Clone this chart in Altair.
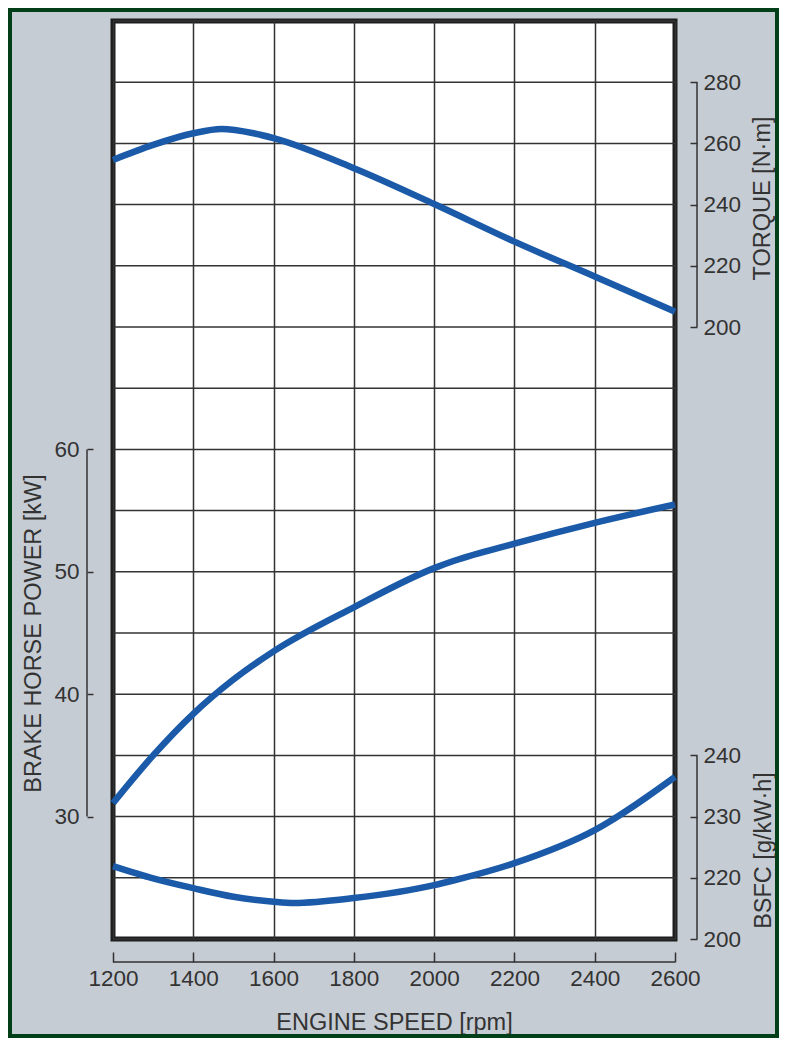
import altair as alt
import pandas as pd

# ---- data ----
rpm_ticks = [1200, 1400, 1600, 1800, 2000, 2200, 2400, 2600]

torque_rpm = [1200, 1300, 1400, 1470, 1550, 1600, 1800, 2000, 2200, 2400, 2600]
torque_nm = [254.6, 259.5, 263.3, 264.7, 263.3, 261.7, 251.9, 240.2, 227.9, 216.5, 205.0]

power_rpm = [1200, 1300, 1400, 1500, 1600, 1800, 2000, 2050, 2200, 2400, 2600]
power_kw = [31.1, 35.0, 38.4, 41.2, 43.5, 47.1, 50.3, 50.9, 52.3, 54.0, 55.5]

bsfc_rpm = [1200, 1300, 1400, 1500, 1600, 1650, 1800, 2000, 2050, 2200, 2400, 2600]
bsfc_g = [221.9, 219.9, 218.3, 216.9, 216.1, 215.9, 216.7, 218.8, 219.6, 222.4, 227.8, 236.5]

power_grid = [20, 25, 30, 35, 40, 45, 50, 55, 60, 65, 70, 75, 80, 85, 90, 95]
power_ticks = [30, 40, 50, 60]
torque_ticks = [200, 220, 240, 260, 280]
bsfc_ticks = [210, 220, 230, 240]

W, H = 562, 918
LINE = "#1a5aa8"
INK = "#333333"
FONT = "Liberation Sans"
BG = "#c6ccd3"

common_axis = dict(
    labelColor=INK, tickColor=INK, tickWidth=1.5, labelFont=FONT,
    titleFont=FONT, titleFontWeight="normal", titleColor=INK,
    labelFontSize=22.5, titleFontSize=23.5, domain=False,
    titleAlign="center", titleBaseline="middle", labelFlush=False,
)

X = alt.X(
    "rpm:Q",
    scale=alt.Scale(domain=[1200, 2600], nice=False, zero=False),
    axis=alt.Axis(
        values=rpm_ticks, grid=True, gridColor=INK, gridWidth=1.5,
        tickSize=10, offset=13, labelPadding=5, format="d",
        title="ENGINE SPEED [rpm]", titleX=281, titleY=70, **common_axis
    ),
)

Y_power = alt.Y(
    "power:Q",
    scale=alt.Scale(domain=[20, 95], nice=False, zero=False),
    axis=alt.Axis(
        orient="left", values=power_ticks, grid=False, offset=20, tickSize=6,
        labelPadding=8, title="BRAKE HORSE POWER [kW]", titleAngle=270,
        titleX=-60, titleY=612, **common_axis
    ),
)

Y_torque = alt.Y(
    "torque:Q",
    scale=alt.Scale(domain=[0, 300], nice=False, zero=False),
    axis=alt.Axis(
        orient="right", values=torque_ticks, grid=False, offset=15, tickSize=7,
        labelPadding=6, title="TORQUE [N·m]", titleAngle=270,
        titleX=72, titleY=177, **common_axis
    ),
)

Y_bsfc = alt.Y(
    "bsfc:Q",
    scale=alt.Scale(domain=[210, 360], nice=False, zero=False),
    axis=alt.Axis(
        orient="right", values=bsfc_ticks, grid=False, offset=15, tickSize=7,
        labelPadding=6, labelExpr="datum.value == 210 ? '200' : datum.label",
        title="BSFC [g/kW·h]", titleAngle=270,
        titleX=73, titleY=829, **common_axis
    ),
)

df_power = pd.DataFrame({"rpm": power_rpm, "power": power_kw})
df_torque = pd.DataFrame({"rpm": torque_rpm, "torque": torque_nm})
df_bsfc = pd.DataFrame({"rpm": bsfc_rpm, "bsfc": bsfc_g})

# frame around the whole picture (decoration)
frame = alt.Chart(pd.DataFrame({"rpm": [1200]})).mark_rect(
    filled=False, stroke="#003f18", strokeWidth=4
).encode(
    x=alt.value(-103), x2=alt.value(W + 102),
    y=alt.value(-11), y2=alt.value(H + 97),
)

hgrid = alt.Chart(pd.DataFrame({"power": power_grid})).mark_rule(
    color=INK, strokeWidth=1.5
).encode(y=Y_power)

power_axis_line = alt.Chart(pd.DataFrame({"power": [30], "power_end": [60]})).mark_rule(
    color=INK, strokeWidth=1.5
).encode(x=alt.value(-26), y=Y_power, y2="power_end:Q")

x_axis_line = alt.Chart(pd.DataFrame({"rpm": [1200], "rpm_end": [2600]})).mark_rule(
    color=INK, strokeWidth=1.5
).encode(x=X, x2="rpm_end:Q", y=alt.value(H + 23))

power_line = alt.Chart(df_power).mark_line(
    color=LINE, strokeWidth=6.5, interpolate="monotone"
).encode(x=X, y=Y_power)

power_layer = alt.layer(hgrid, power_axis_line, x_axis_line, power_line)

torque_axis_line = alt.Chart(pd.DataFrame({"torque": [200], "torque_end": [280]})).mark_rule(
    color=INK, strokeWidth=1.5
).encode(x=alt.value(W + 22), y=Y_torque, y2="torque_end:Q")

torque_line = alt.Chart(df_torque).mark_line(
    color=LINE, strokeWidth=6.5, interpolate="monotone"
).encode(x=X, y=Y_torque)

torque_layer = alt.layer(torque_axis_line, torque_line)

bsfc_axis_line = alt.Chart(pd.DataFrame({"bsfc": [210], "bsfc_end": [240]})).mark_rule(
    color=INK, strokeWidth=1.5
).encode(x=alt.value(W + 22), y=Y_bsfc, y2="bsfc_end:Q")

bsfc_line = alt.Chart(df_bsfc).mark_line(
    color=LINE, strokeWidth=6.5, interpolate="monotone"
).encode(x=X, y=Y_bsfc)

bsfc_layer = alt.layer(bsfc_axis_line, bsfc_line)

chart = alt.layer(frame, power_layer, torque_layer, bsfc_layer).resolve_scale(
    y="independent"
).properties(
    width=W, height=H,
    background=BG,
    padding={"left": 105, "top": 13, "right": 104, "bottom": 99},
    autosize=alt.AutoSizeParams(type="none"),
).configure_view(
    stroke="#1e1e1e", strokeWidth=5, fill="white"
)

chart.save("out.html", embed_options={"renderer": "svg", "actions": False})
